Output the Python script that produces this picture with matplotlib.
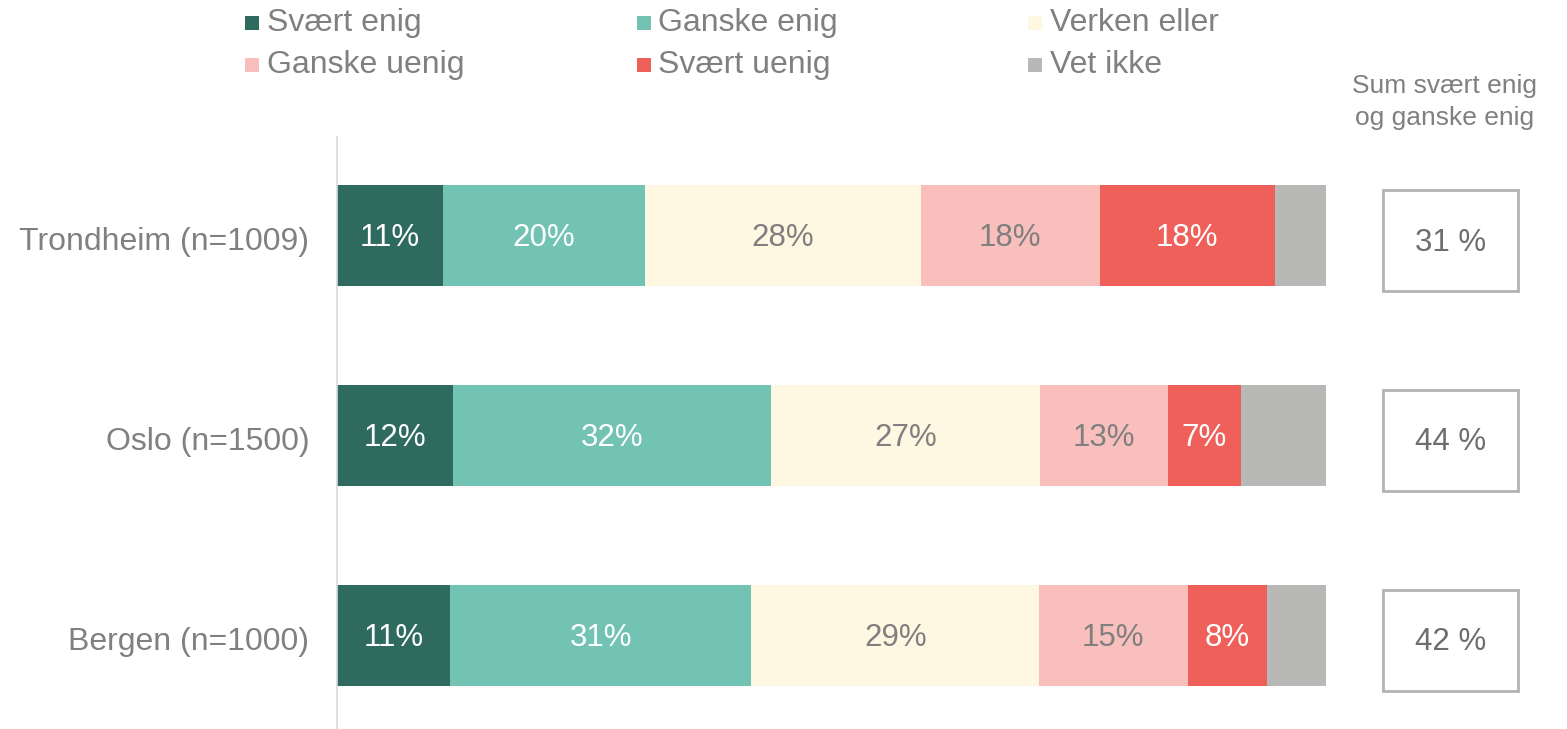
import matplotlib
matplotlib.use("Agg")
import matplotlib.pyplot as plt
from matplotlib.patches import Rectangle
from matplotlib.transforms import blended_transform_factory
import numpy as np

plt.rcParams["font.family"] = ["Liberation Sans", "DejaVu Sans"]

# data
cities = ["Trondheim (n=1009)", "Oslo (n=1500)", "Bergen (n=1000)"]
categories = ["Svært enig", "Ganske enig", "Verken eller",
              "Ganske uenig", "Svært uenig", "Vet ikke"]
svaert_enig = [10.7, 11.7, 11.4]
ganske_enig = [20.4, 32.2, 30.5]
verken_eller = [27.9, 27.2, 29.1]
ganske_uenig = [18.1, 12.9, 15.0]
svaert_uenig = [17.7, 7.4, 8.0]
vet_ikke = [5.2, 8.6, 6.0]
shown_labels = [["11%", "20%", "28%", "18%", "18%", None],
                ["12%", "32%", "27%", "13%", "7%", None],
                ["11%", "31%", "29%", "15%", "8%", None]]
sum_enig = ["31 %", "44 %", "42 %"]

colors = ["#2E6B5E", "#72C3B4", "#FEF7E1", "#F8BFBC", "#F0605A", "#B8B9B6"]
label_colors = ["white", "white", "#7F7F7F", "#7F7F7F", "white", "white"]
GRAY = "#808080"

series = [svaert_enig, ganske_enig, verken_eller, ganske_uenig, svaert_uenig, vet_ikke]

fig = plt.figure(figsize=(15.67, 7.29), dpi=100)
ax = fig.add_axes([337 / 1567, 0.0, (1326 - 337) / 1567, 1 - 137 / 729])

y = np.arange(len(cities))
left = np.zeros(len(cities))
for i, vals in enumerate(series):
    vals = np.array(vals)
    ax.barh(y, vals, left=left, height=0.505, color=colors[i], edgecolor="none")
    for j in range(len(cities)):
        lab = shown_labels[j][i]
        if lab:
            ax.text(left[j] + vals[j] / 2, y[j] + 0.01, lab, ha="center", va="center",
                    fontsize=22.5, color=label_colors[i])
    left += vals

ax.set_xlim(0, left.max())
ax.set_ylim(2 + (729 - 635.5) / 200, -98.5 / 200)
ax.set_yticks(y + 0.015)
ax.set_yticklabels(cities, fontsize=23, color=GRAY)
ax.tick_params(axis="y", length=0, pad=20)
ax.set_xticks([])
for s in ["top", "right", "bottom"]:
    ax.spines[s].set_visible(False)
ax.spines["left"].set_color("#D9D9D9")
ax.spines["left"].set_linewidth(1.2)

# sum column
tr = blended_transform_factory(fig.transFigure, ax.transData)
bx0, bx1 = 1383 / 1567, 1518 / 1567
for j, txt in enumerate(sum_enig):
    yc = y[j] + 0.025
    ax.add_patch(Rectangle((bx0, yc - 0.2525), bx1 - bx0, 0.505, transform=tr,
                           facecolor="white", edgecolor="#B3B3B3", lw=2, clip_on=False))
    ax.text((bx0 + bx1) / 2, yc + 0.01, txt, transform=tr, ha="center", va="center",
            fontsize=22.5, color="#6E6E6E")
fig.text(1445 / 1567, 1 - 102 / 729, "Sum svært enig\nog ganske enig", ha="center",
         va="center", fontsize=19, color=GRAY, linespacing=1.45)

# legend
for i, (cat, col) in enumerate(zip(categories, colors)):
    cx = (245 + (i % 3) * 391.5) / 1567
    cy = 1 - (23 + (i // 3) * 42) / 729
    fig.patches.append(Rectangle((cx, cy - 7 / 729), 14 / 1567, 14 / 729,
                                 transform=fig.transFigure, facecolor=col,
                                 edgecolor="none"))
    fig.text(cx + 22 / 1567, cy, cat, ha="left", va="center", fontsize=23, color=GRAY)

fig.savefig("out.png", dpi=100)
